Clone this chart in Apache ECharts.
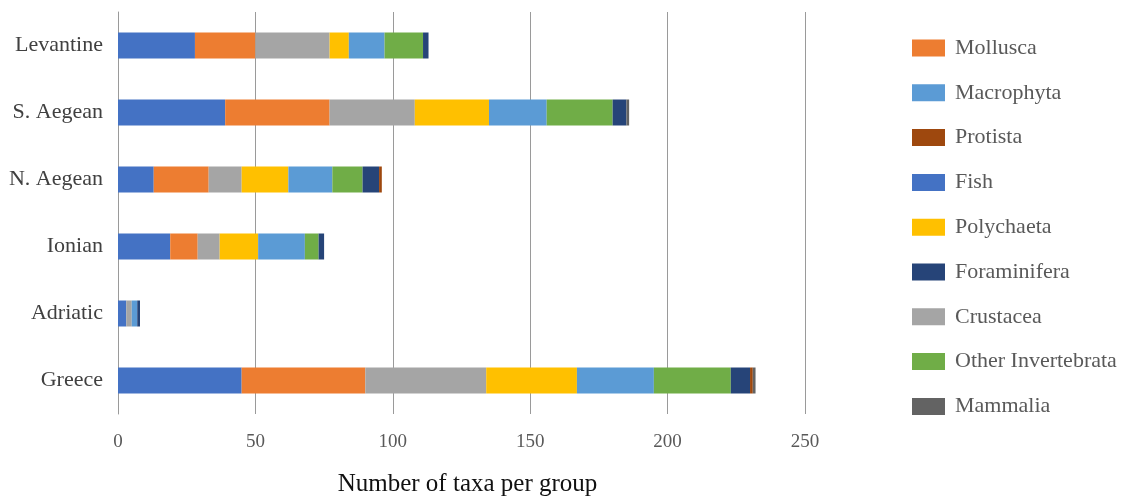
<!DOCTYPE html>
<html>
<head>
<meta charset="utf-8">
<script src="https://cdn.jsdelivr.net/npm/echarts@6/dist/echarts.min.js"></script>
<style>html,body{margin:0;padding:0;background:#fff;}#c{width:1135px;height:498px;}</style>
</head>
<body>
<div id="c"></div>
<script>
const categories = ['Greece', 'Adriatic', 'Ionian', 'N. Aegean', 'S. Aegean', 'Levantine'];
const fish        = [45, 3, 19, 13, 39, 28];
const mollusca    = [45, 0, 10, 20, 38, 22];
const crustacea   = [44, 2, 8, 12, 31, 27];
const polychaeta  = [33, 0, 14, 17, 27, 7];
const macrophyta  = [28, 2, 17, 16, 21, 13];
const otherInv    = [28, 0, 5, 11, 24, 14];
const foraminifera= [7, 1, 2, 6, 5, 2];
const protista    = [1, 0, 0, 1, 0, 0];
const mammalia    = [1, 0, 0, 0, 1, 0];
const xTicks = [0, 50, 100, 150, 200, 250];
const legendOrder = ['Mollusca', 'Macrophyta', 'Protista', 'Fish', 'Polychaeta', 'Foraminifera', 'Crustacea', 'Other Invertebrata', 'Mammalia'];

const seriesDefs = [
  ['Fish', fish, '#4472C4'],
  ['Mollusca', mollusca, '#ED7D31'],
  ['Crustacea', crustacea, '#A5A5A5'],
  ['Polychaeta', polychaeta, '#FFC000'],
  ['Macrophyta', macrophyta, '#5B9BD5'],
  ['Other Invertebrata', otherInv, '#70AD47'],
  ['Foraminifera', foraminifera, '#264478'],
  ['Protista', protista, '#9E480E'],
  ['Mammalia', mammalia, '#636363']
];
const serif = '"Liberation Serif", "DejaVu Serif", serif';
const chart = echarts.init(document.getElementById('c'), null, {renderer: 'canvas'});
chart.setOption({
  animation: false,
  backgroundColor: '#fff',
  grid: {left: 118, right: 330, top: 12, bottom: 84, containLabel: false, outerBoundsMode: 'none'},
  legend: {
    data: legendOrder,
    orient: 'vertical',
    left: 907,
    top: 32,
    itemWidth: 33,
    itemHeight: 17,
    itemGap: 22.8,
    icon: 'rect',
    textStyle: {fontFamily: serif, fontSize: 22, color: '#595959', padding: [0, 0, 0, 5], lineHeight: 22}
  },
  xAxis: {
    type: 'value',
    min: xTicks[0],
    max: xTicks[xTicks.length - 1],
    interval: 50,
    axisLine: {show: false},
    axisTick: {show: false},
    splitLine: {show: true, lineStyle: {color: '#9a9a9a', width: 1}},
    axisLabel: {fontFamily: serif, fontSize: 19, color: '#595959', margin: 19},
    name: 'Number of taxa per group',
    nameLocation: 'middle',
    nameGap: 58,
    nameTextStyle: {fontFamily: serif, fontSize: 25, color: '#111', padding: [0, 0, 0, 12]}
  },
  yAxis: {
    type: 'category',
    data: categories,
    axisLine: {show: true, lineStyle: {color: '#9a9a9a', width: 1}},
    axisTick: {show: false},
    axisLabel: {fontFamily: serif, fontSize: 22, color: '#404040', margin: 15}
  },
  series: seriesDefs.map(([name, data, color]) => ({
    name: name,
    type: 'bar',
    stack: 'total',
    data: data,
    barWidth: 26,
    itemStyle: {color: color},
    emphasis: {disabled: true}
  }))
});
</script>
</body>
</html>
